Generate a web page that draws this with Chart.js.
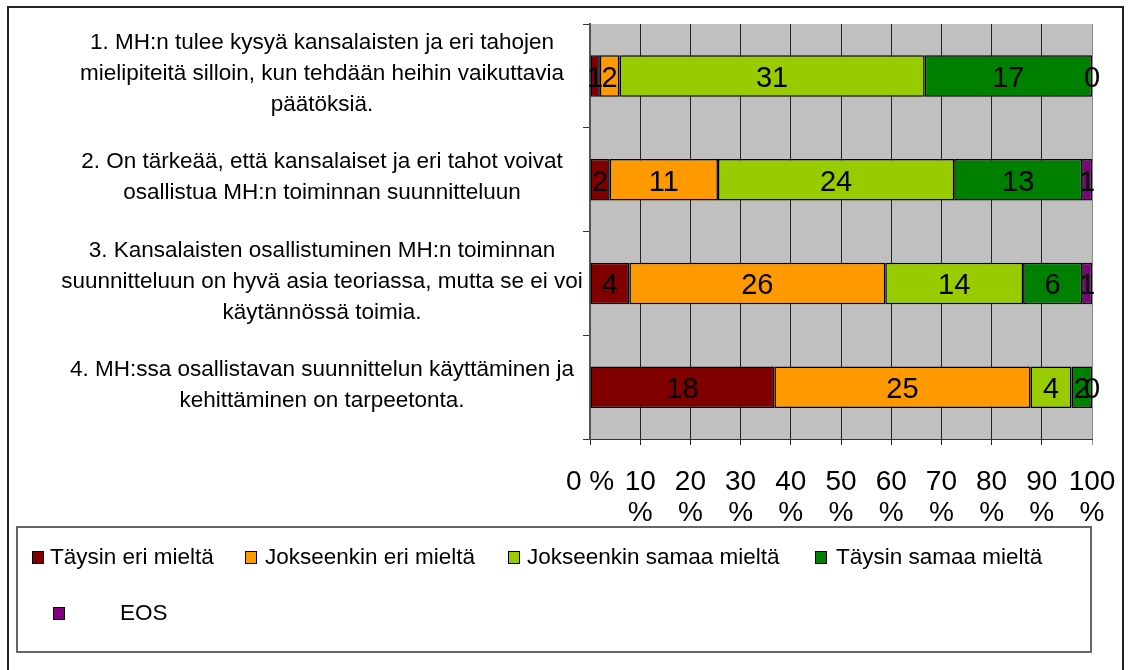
<!DOCTYPE html>
<html>
<head>
<meta charset="utf-8">
<script src="https://cdn.jsdelivr.net/npm/chart.js@4.4.0/dist/chart.umd.min.js"></script>
<style>
	body { margin: 0; background: #fff; }
	#wrap { width: 1129px; height: 670px; }
</style>
</head>
<body>
<div id="wrap"><canvas id="mhChart" width="1129" height="670"></canvas></div>
<script>
const categories = [
	['1. MH:n tulee kysyä kansalaisten ja eri tahojen', 'mielipiteitä silloin, kun tehdään heihin vaikuttavia', 'päätöksiä.'],
	['2. On tärkeää, että kansalaiset ja eri tahot voivat', 'osallistua MH:n toiminnan suunnitteluun'],
	['3. Kansalaisten osallistuminen MH:n toiminnan', 'suunnitteluun on hyvä asia teoriassa, mutta se ei voi', 'käytännössä toimia.'],
	['4. MH:ssa osallistavan suunnittelun käyttäminen ja', 'kehittäminen on tarpeetonta.'],
];
const seriesNames = ['Täysin eri mieltä', 'Jokseenkin eri mieltä', 'Jokseenkin samaa mieltä', 'Täysin samaa mieltä', 'EOS'];
const taysinEri = [1, 2, 4, 18];
const jokseenkinEri = [2, 11, 26, 25];
const jokseenkinSamaa = [31, 24, 14, 4];
const taysinSamaa = [17, 13, 6, 2];
const eos = [0, 1, 1, 0];
const xTicks = [0, 10, 20, 30, 40, 50, 60, 70, 80, 90, 100];

const colors = ['#800000', '#ff9900', '#99cc00', '#008000', '#800080'];
const FONT = 'Liberation Sans, Arial, sans-serif';

const counts = [taysinEri, jokseenkinEri, jokseenkinSamaa, taysinSamaa, eos];
const totals = categories.map((c, i) => counts.reduce((s, arr) => s + arr[i], 0));

const datasets = counts.map((arr, k) => ({
	label: seriesNames[k],
	data: arr.map((v, i) => v / totals[i] * 100),
	counts: arr,
	backgroundColor: colors[k],
	borderColor: '#000',
	borderWidth: 1.5,
	borderSkipped: false,
	barPercentage: 0.4,
	categoryPercentage: 1,
}));

// grey plot area
const plotBg = {
	id: 'plotBg',
	beforeDraw(chart) {
		const { ctx, chartArea: a } = chart;
		ctx.save();
		ctx.fillStyle = '#c0c0c0';
		ctx.fillRect(a.left, a.top, a.right - a.left, a.bottom - a.top);
		ctx.restore();
	},
};

// count labels in the middle of each segment
const valueLabels = {
	id: 'valueLabels',
	afterDatasetsDraw(chart) {
		const ctx = chart.ctx;
		ctx.save();
		ctx.font = '29px ' + FONT;
		ctx.fillStyle = '#000';
		ctx.textAlign = 'center';
		ctx.textBaseline = 'middle';
		chart.data.datasets.forEach((ds, k) => {
			chart.getDatasetMeta(k).data.forEach((el, i) => {
				ctx.fillText(String(ds.counts[i]), (el.x + el.base) / 2, el.y + 3);
			});
		});
		ctx.restore();
	},
};

// category texts, outer frame and legend box
const extras = {
	id: 'extras',
	afterDraw(chart) {
		const ctx = chart.ctx;
		const yScale = chart.scales.y;
		ctx.save();
		ctx.fillStyle = '#000';
		ctx.font = '22.5px ' + FONT;
		ctx.textAlign = 'center';
		ctx.textBaseline = 'middle';
		categories.forEach((lines, i) => {
			const cy = yScale.getPixelForValue(i) - 2;
			const lh = 31;
			lines.forEach((line, j) => {
				ctx.fillText(line, 322, cy + (j - (lines.length - 1) / 2) * lh);
			});
		});

		// outer frame
		ctx.strokeStyle = '#222';
		ctx.lineWidth = 2;
		ctx.beginPath();
		ctx.moveTo(8, 672);
		ctx.lineTo(8, 7);
		ctx.lineTo(1123, 7);
		ctx.lineTo(1123, 672);
		ctx.stroke();

		// legend
		ctx.strokeStyle = '#666';
		ctx.lineWidth = 2;
		ctx.strokeRect(17, 527, 1074, 125);
		const items = [
			{ sx: 32, tx: 50, y: 557 },
			{ sx: 245, tx: 265, y: 557 },
			{ sx: 508, tx: 527, y: 557 },
			{ sx: 815, tx: 836, y: 557 },
			{ sx: 53, tx: 120, y: 613 },
		];
		ctx.font = '22.5px ' + FONT;
		ctx.textAlign = 'left';
		ctx.lineWidth = 1;
		ctx.strokeStyle = '#000';
		items.forEach((it, k) => {
			ctx.fillStyle = colors[k];
			ctx.fillRect(it.sx, it.y - 6, 12, 13);
			ctx.strokeRect(it.sx + 0.5, it.y - 5.5, 11, 12);
			ctx.fillStyle = '#000';
			ctx.fillText(seriesNames[k], it.tx, it.y + 1);
		});
		ctx.restore();
	},
};

const config = {
	type: 'bar',
	data: { labels: categories.map((c, i) => i), datasets: datasets },
	options: {
		indexAxis: 'y',
		responsive: false,
		animation: false,
		layout: { padding: { top: 24, right: 37, left: 0, bottom: 0 } },
		plugins: { legend: { display: false }, tooltip: { enabled: false } },
		scales: {
			x: {
				stacked: true,
				min: 0,
				max: 100,
				afterBuildTicks: (s) => { s.ticks = xTicks.map((v) => ({ value: v })); },
				afterFit: (s) => {
					s.height = 231;
					s.paddingLeft = 0;
					s.paddingRight = 0;
				},
				ticks: {
					color: '#000',
					autoSkip: false,
					maxRotation: 0,
					padding: 22,
					font: { family: FONT, size: 28, lineHeight: 1.1 },
					callback: (v) => (v === 0 ? '0 %' : [String(v), '%']),
				},
				grid: {
					color: (c) => (c.tick && c.tick.value === 100 ? '#888' : '#222'),
					lineWidth: 1,
					tickLength: 6,
				},
				border: { color: '#333', width: 1 },
			},
			y: {
				stacked: true,
				afterFit: (s) => { s.width = 590; },
				ticks: { display: false },
				grid: { drawOnChartArea: false, tickLength: 7, color: '#333', offset: true },
				border: { color: '#555', width: 2 },
			},
		},
	},
	plugins: [plotBg, valueLabels, extras],
};

const ctx = document.getElementById('mhChart').getContext('2d');
const myChart = new Chart(ctx, config);
</script>
</body>
</html>
